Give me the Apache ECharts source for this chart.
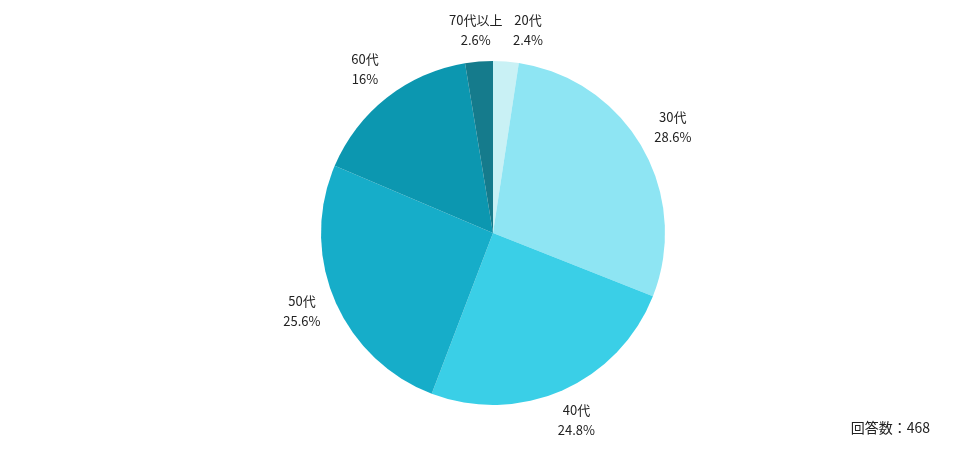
<!DOCTYPE html>
<html>
<head>
<meta charset="utf-8">
<script src="https://cdn.jsdelivr.net/npm/echarts@6/dist/echarts.min.js"></script>
<style>
html,body{margin:0;padding:0;background:#fff;}
#main{width:976px;height:459px;}
</style>
</head>
<body>
<div id="main"></div>
<script>
const categories = ['20代', '30代', '40代', '50代', '60代', '70代以上'];
const values = [2.4, 28.6, 24.8, 25.6, 16, 2.6];
const colors = ['#c9f1f5', '#8ee5f3', '#3acfe7', '#16adc9', '#0c97b0', '#157b8c'];
const footnote = '回答数：468';

// small label nudges (styling only)
const labelNudge = [[19, 8], [-4, 0], [-2, -7], [4, -5], [3, 3], [0, 8]];

const FONT = '"Noto Sans CJK JP", "Noto Sans", sans-serif';
const chart = echarts.init(document.getElementById('main'), null, {renderer: 'canvas'});

const pieData = categories.map((c, i) => ({name: c, value: values[i], itemStyle: {color: colors[i]}}));
const labelData = categories.map((c, i) => ({name: c, value: values[i], label: {offset: labelNudge[i]}}));

chart.setOption({
  animation: false,
  graphic: [{
    type: 'text',
    right: 46,
    top: 421,
    style: {text: footnote, font: '14px ' + FONT, fill: '#222'}
  }],
  series: [
    {
      type: 'pie',
      center: [493, 233],
      radius: [0, 172],
      startAngle: 90,
      clockwise: true,
      label: {show: false},
      labelLine: {show: false},
      silent: true,
      data: pieData
    },
    {
      type: 'pie',
      center: [493, 233],
      radius: [172, 246],
      startAngle: 90,
      clockwise: true,
      silent: true,
      itemStyle: {color: 'rgba(0,0,0,0)'},
      label: {
        show: true,
        position: 'inside',
        formatter: p => p.name + '\n' + p.value + '%',
        fontFamily: FONT,
        fontSize: 13,
        lineHeight: 20,
        color: '#222',
        align: 'center'
      },
      labelLine: {show: false},
      data: labelData
    }
  ]
});
</script>
</body>
</html>
